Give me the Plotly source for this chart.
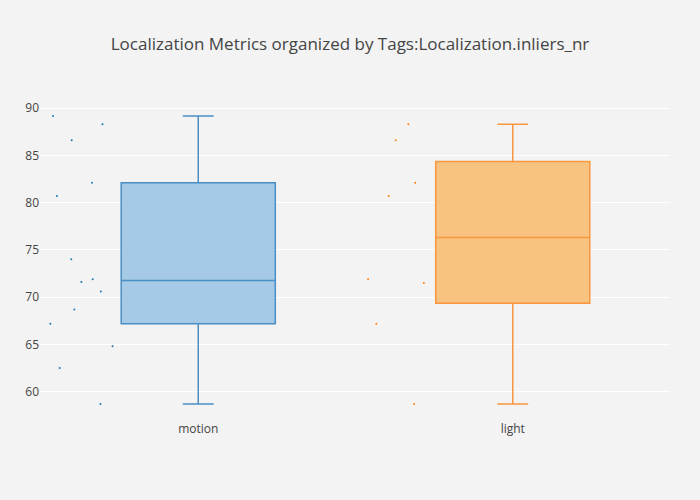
import plotly.graph_objects as go

motion_values = [89.16, 86.6, 88.3, 82.1, 80.7, 74.0, 71.6, 71.9, 70.6, 68.7, 67.2, 64.8, 62.5, 58.7]
light_values = [88.3, 86.6, 82.1, 80.7, 71.9, 71.5, 67.2, 58.7]
categories = ["motion", "light"]
line_colors = ["rgb(74,142,196)", "rgb(248,150,62)"]
fill_colors = ["rgb(166,201,229)", "rgb(248,195,128)"]
point_colors = ["#1f77b4", "#ff7f0e"]

fig = go.Figure()
for name, vals, lc, fc, pc in zip(categories, [motion_values, light_values],
                                  line_colors, fill_colors, point_colors):
    fig.add_trace(go.Box(
        y=vals, x=[name] * len(vals), name=name,
        boxpoints="all", jitter=0.5, marker=dict(color=pc, size=2),
        line=dict(color=lc, width=1.5), fillcolor=fc, whiskerwidth=0.2,
    ))

fig.update_layout(
    title=dict(text="Localization Metrics organized by Tags:Localization.inliers_nr", x=0.5,
               font=dict(size=17, color="#444")),
    width=700, height=500,
    paper_bgcolor="#f3f3f3", plot_bgcolor="#f3f3f3",
    showlegend=False,
    margin=dict(l=40, r=30, t=100, b=80),
    font=dict(family="Open Sans", color="#444"),
    xaxis=dict(showgrid=False, zeroline=False),
    yaxis=dict(gridcolor="white", zeroline=False),
)
fig.write_html("out.html", config={"displayModeBar": False},
               post_script="document.body.style.margin='0';document.body.style.background='#f3f3f3';")
